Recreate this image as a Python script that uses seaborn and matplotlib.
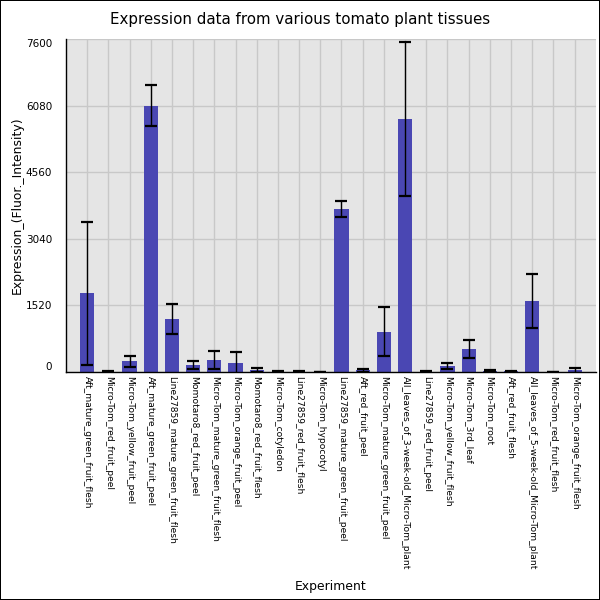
import pandas as pd
import seaborn as sns
import matplotlib.pyplot as plt

# tissues in the order shown on the x axis
tissues = [
    "Aft_mature_green_fruit_flesh", "Micro-Tom_red_fruit_peel",
    "Micro-Tom_yellow_fruit_peel", "Aft_mature_green_fruit_peel",
    "Line27859_mature_green_fruit_flesh", "Momotaro8_red_fruit_peel",
    "Micro-Tom_mature_green_fruit_flesh", "Micro-Tom_orange_fruit_peel",
    "Momotaro8_red_fruit_flesh", "Micro-Tom_cotyledon",
    "Line27859_red_fruit_flesh", "Micro-Tom_hypocotyl",
    "Line27859_mature_green_fruit_peel", "Aft_red_fruit_peel",
    "Micro-Tom_mature_green_fruit_peel", "All_leaves_of_3-week-old_Micro-Tom_plant",
    "Line27859_red_fruit_peel", "Micro-Tom_yellow_fruit_flesh",
    "Micro-Tom_3rd_leaf", "Micro-Tom_root", "Aft_red_fruit_flesh",
    "All_leaves_of_5-week-old_Micro-Tom_plant", "Micro-Tom_red_fruit_flesh",
    "Micro-Tom_orange_fruit_flesh",
]
expression = [1794, 10, 240, 6080, 1210, 160, 275, 205, 40, 10, 10, 5,
              3720, 40, 920, 5775, 10, 130, 520, 30, 15, 1620, 5, 40]
std_dev = [1640, 8, 115, 470, 340, 100, 215, 250, 45, 8, 8, 5,
           175, 35, 560, 1760, 8, 70, 200, 15, 10, 620, 5, 60]
y_ticks = [0, 1520, 3040, 4560, 6080, 7600]

df = pd.DataFrame({"Experiment": tissues, "Expression": expression, "SD": std_dev})

sns.set_style("whitegrid", {"axes.facecolor": "#e5e5e5", "grid.color": "#c8c8c8"})
plt.rcParams["font.family"] = ["DejaVu Sans"]
plt.rcParams.update({"text.color": "black", "axes.labelcolor": "black",
                     "xtick.color": "black", "ytick.color": "black"})

fig = plt.figure(figsize=(6, 6), dpi=100)
fig.patch.set_edgecolor("black")
fig.patch.set_linewidth(1.2)
ax = fig.add_axes([0.11, 0.38, 0.883, 0.555])

sns.barplot(data=df, x="Experiment", y="Expression", color="#4a47b3",
            saturation=1, width=0.67, errorbar=None, linewidth=0,
            edgecolor="none", ax=ax, zorder=2)
ax.errorbar(range(len(df)), df["Expression"], yerr=df["SD"], fmt="none",
            ecolor="black", elinewidth=1, capsize=4.3, capthick=1.6, zorder=3)

ax.set_xlim(-1, len(df))
ax.set_ylim(0, 7600)
ax.set_yticks(y_ticks)
ax.set_yticklabels([str(t) for t in y_ticks], fontsize=7.5)
ylabels = ax.get_yticklabels()
ylabels[0].set_va("bottom")
ylabels[-1].set_va("top")
ax.tick_params(axis="both", length=0)
ax.tick_params(axis="y", pad=10)
ax.tick_params(axis="x", pad=3)
plt.setp(ax.get_xticklabels(), rotation=270, fontsize=6.6, ha="center", va="top")

ax.grid(True, axis="both", color="#c8c8c8", linewidth=1, zorder=0)
ax.set_axisbelow(True)
for side in ["top", "right"]:
    ax.spines[side].set_visible(False)
for side in ["left", "bottom"]:
    ax.spines[side].set_color("black")
    ax.spines[side].set_linewidth(1)

fig.text(0.5, 0.967, "Expression data from various tomato plant tissues",
         fontsize=10.8, ha="center", va="center")
ax.set_xlabel("Experiment", fontsize=8.9)
ax.set_ylabel("Expression_(Fluor._Intensity)", fontsize=8.9)
ax.xaxis.set_label_coords(0.5, -0.625)
ax.yaxis.set_label_coords(-0.08, 0.5)

fig.savefig("out.png", dpi=100, edgecolor=fig.get_edgecolor())
